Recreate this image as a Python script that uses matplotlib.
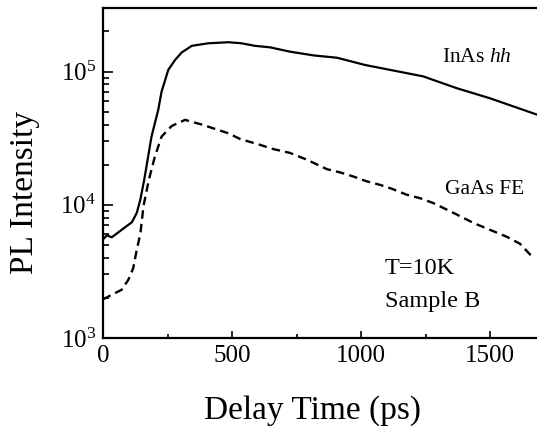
import matplotlib
matplotlib.use("Agg")
import matplotlib.pyplot as plt
from matplotlib.ticker import LogLocator, FixedLocator, NullFormatter, LogFormatterMathtext

# ---- data ----
t_inas = [0, 15, 34, 73, 112, 131, 145, 160, 188, 214, 227, 253, 279, 305, 344,
          408, 486, 537, 589, 647, 725, 819, 907, 1016, 1112, 1241, 1371, 1500, 1682]
i_inas = [5.5e3, 5.9e3, 5.7e3, 6.5e3, 7.4e3, 8.7e3, 1.1e4, 1.55e4, 3.25e4, 5.15e4,
          7.07e4, 1.03e5, 1.22e5, 1.39e5, 1.56e5, 1.63e5, 1.66e5, 1.63e5, 1.56e5,
          1.52e5, 1.41e5, 1.32e5, 1.27e5, 1.12e5, 1.03e5, 9.2e4, 7.5e4, 6.3e4, 4.75e4]

t_gaas = [0, 46, 72, 98, 117, 131, 145, 157, 178, 201, 227, 266, 318, 383, 486,
          531, 608, 660, 725, 790, 868, 919, 970, 1022, 1074, 1119, 1177, 1229,
          1280, 1358, 1436, 1565, 1616, 1662]
i_gaas = [1.95e3, 2.17e3, 2.3e3, 2.73e3, 3.34e3, 4.6e3, 6.1e3, 9.8e3, 1.55e4, 2.3e4,
          3.25e4, 3.9e4, 4.34e4, 4.0e4, 3.44e4, 3.12e4, 2.82e4, 2.62e4, 2.45e4,
          2.18e4, 1.85e4, 1.75e4, 1.63e4, 1.5e4, 1.41e4, 1.32e4, 1.19e4, 1.12e4,
          1.03e4, 8.7e3, 7.3e3, 5.75e3, 5.1e3, 4.1e3]

x_major = [0, 500, 1000, 1500]
x_minor = [250, 750, 1250]

plt.rcParams['font.family'] = ['Liberation Serif', 'DejaVu Serif']
plt.rcParams['mathtext.fontset'] = 'custom'
plt.rcParams['mathtext.rm'] = 'Liberation Serif'
plt.rcParams['mathtext.it'] = 'Liberation Serif:italic'

fig = plt.figure(figsize=(5.37, 4.26), dpi=100)
ax = fig.add_axes([103/537, 1 - 338/426, 1 - 103/537, (338 - 8)/426])

ax.plot(t_inas, i_inas, color='black', lw=1.6, solid_joinstyle='round')
ax.plot(t_gaas, i_gaas, color='black', lw=1.7, dashes=(3.6, 2.2))

ax.set_yscale('log')
ax.set_xlim(0, 1682)
ax.set_ylim(1e3, 3.0e5)

ax.xaxis.set_major_locator(FixedLocator(x_major))
ax.xaxis.set_minor_locator(FixedLocator(x_minor))
ax.yaxis.set_major_locator(LogLocator(base=10, numticks=10))
ax.yaxis.set_minor_locator(LogLocator(base=10, subs=range(2, 10), numticks=20))
ax.yaxis.set_major_formatter(LogFormatterMathtext())
ax.yaxis.set_minor_formatter(NullFormatter())

ax.tick_params(which='both', direction='in', top=False, right=False, width=1.2)
ax.tick_params(which='major', length=7, labelsize=18, pad=5)
ax.tick_params(which='minor', length=4)
ax.tick_params(axis='x', which='major', length=5)
ax.tick_params(axis='x', which='minor', length=3)

for s in ['left', 'bottom', 'top']:
    ax.spines[s].set_linewidth(1.6)
ax.spines['right'].set_visible(False)

fig.text(312/537, 1 - 411/426, 'Delay Time (ps)', fontsize=24, ha='center', va='center')
fig.text(25/537, 1 - 192/426, 'PL Intensity', fontsize=24, ha='center', va='center',
         rotation=90)


def place(txt, xpix, ypix, fs):
    fig.text(xpix/537, 1 - ypix/426, txt, fontsize=fs, ha='left', va='center')


place(r'InAs $\mathit{hh}$', 442, 57, 15.5)
place('GaAs FE', 445, 190, 15.5)
place('T=10K', 385, 268, 17.5)
place('Sample B', 385, 302, 17.5)

fig.savefig('out.png', dpi=100)
